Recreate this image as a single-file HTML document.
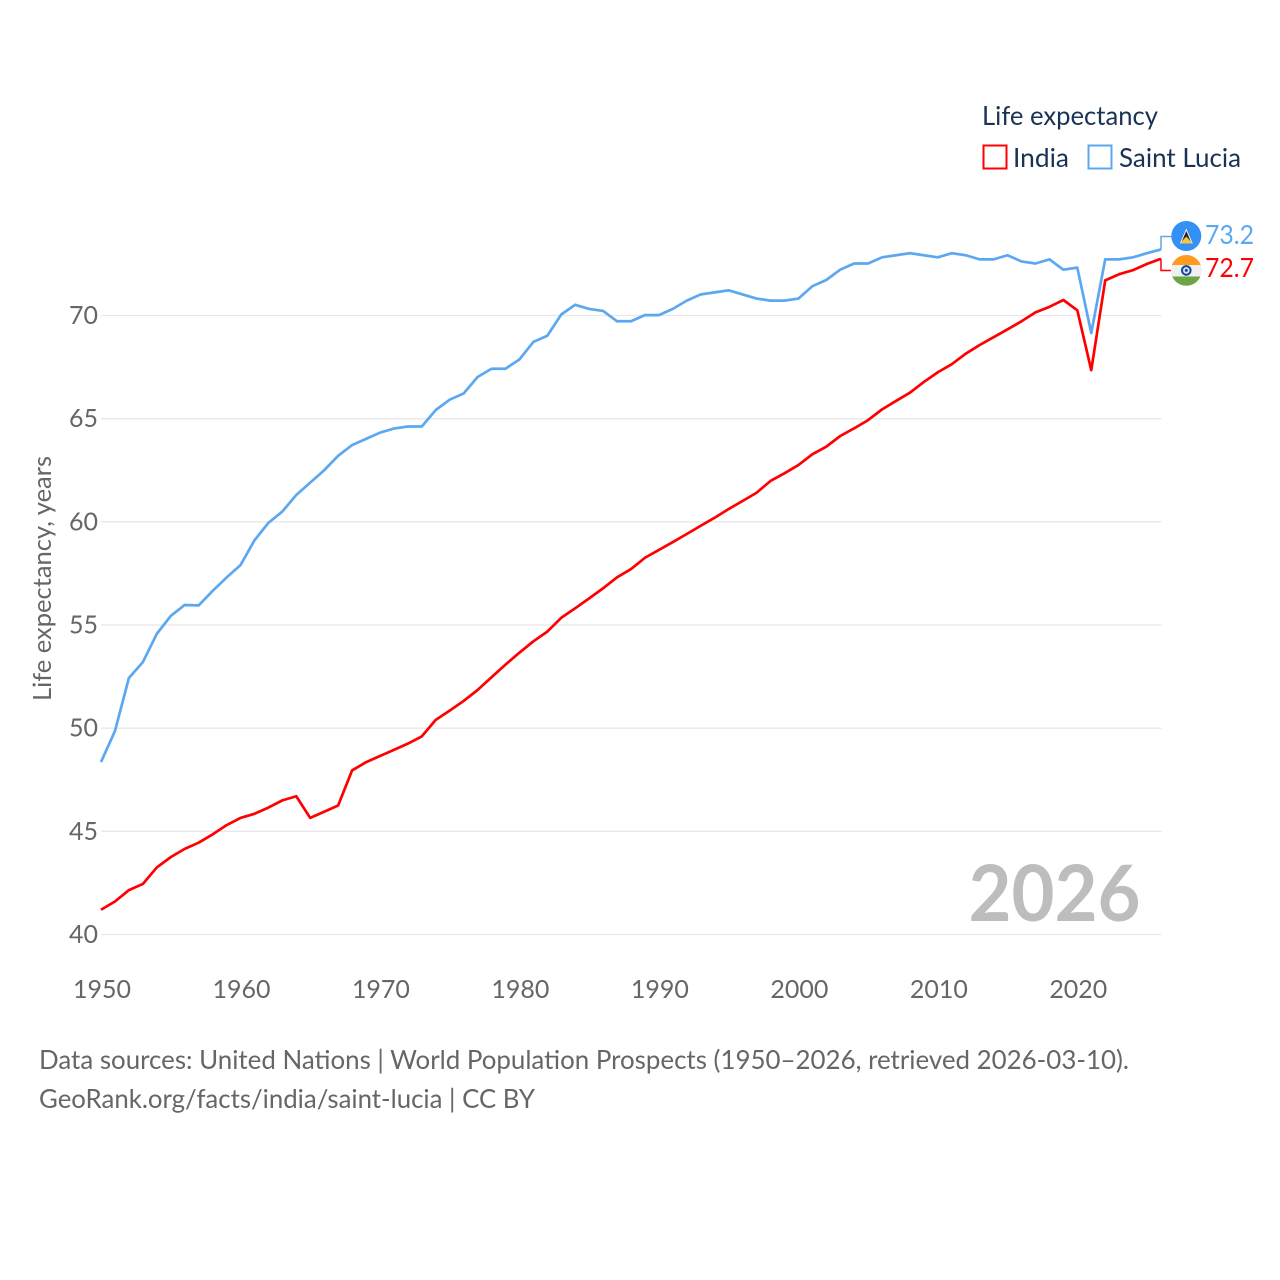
<!DOCTYPE html>
<html>
<head>
<meta charset="utf-8">
<title>Life expectancy: India vs Saint Lucia</title>
<style>
html,body{margin:0;padding:0;background:#fff;}
svg{display:block;}
text{font-family:"Lato","Carlito","Liberation Sans",sans-serif;}
</style>
</head>
<body>
<svg id="chart" xmlns="http://www.w3.org/2000/svg" width="1280" height="1280" viewBox="0 0 1280 1280">
  <rect x="0" y="0" width="1280" height="1280" fill="#fff"/>
  <g id="grid"></g>
  <g id="yticks"></g>
  <g id="xticks"></g>
  <text x="1140.5" y="921" text-anchor="end" font-size="78" font-weight="700" fill="#bdbdbd" textLength="172" lengthAdjust="spacingAndGlyphs">2026</text>
  <text transform="translate(51,701) rotate(-90)" font-size="25.5" fill="#666" textLength="245" lengthAdjust="spacingAndGlyphs">Life expectancy, years</text>
  <g id="series"></g>

  <g>
    <text x="982" y="125" font-size="26.5" fill="#1a3355" textLength="176" lengthAdjust="spacingAndGlyphs">Life expectancy</text>
    <rect x="983.5" y="145.5" width="23" height="23" fill="none" stroke="#ff0000" stroke-width="2"/>
    <text x="1013" y="167" font-size="26.5" fill="#1a3355" textLength="56" lengthAdjust="spacingAndGlyphs">India</text>
    <rect x="1088.5" y="145.5" width="23" height="23" fill="none" stroke="#5ca8f0" stroke-width="2"/>
    <text x="1119" y="167" font-size="26.5" fill="#1a3355" textLength="122" lengthAdjust="spacingAndGlyphs">Saint Lucia</text>
  </g>

  <defs>
    <clipPath id="lc-clip"><circle cx="1186.3" cy="236" r="15"/></clipPath>
    <clipPath id="in-clip"><circle cx="1186.3" cy="270.4" r="15.4"/></clipPath>
  </defs>
  <g clip-path="url(#lc-clip)">
    <rect x="1170" y="220" width="34" height="34" fill="#3390f5"/>
    <polygon points="1186.3,228.5 1192.8,243.5 1179.8,243.5" fill="#f2f2f2"/>
    <polygon points="1186.3,231 1190.8,241.5 1181.8,241.5" fill="#222"/>
    <polygon points="1186.3,236.5 1192.8,243.5 1179.8,243.5" fill="#f5c542"/>
  </g>
  <g clip-path="url(#in-clip)">
    <rect x="1170" y="254" width="34" height="11.2" fill="#ff9a1f"/>
    <rect x="1170" y="265" width="34" height="11.8" fill="#f0f0f0"/>
    <rect x="1170" y="276.5" width="34" height="11" fill="#6da544"/>
    <circle cx="1186.3" cy="270.4" r="5.3" fill="#0a4aa0"/>
    <circle cx="1186.3" cy="270.4" r="3.3" fill="#dfe6f0"/>
    <circle cx="1186.3" cy="270.4" r="1.5" fill="#0a4aa0"/>
  </g>
  <text x="1205" y="244" font-size="26" fill="#5ca8f0" textLength="49" lengthAdjust="spacingAndGlyphs">73.2</text>
  <text x="1205" y="277" font-size="26" fill="#ff0000" textLength="49" lengthAdjust="spacingAndGlyphs">72.7</text>

  <g>
    <text x="39" y="1069" font-size="26" fill="#666" textLength="1090" lengthAdjust="spacingAndGlyphs">Data sources: United Nations | World Population Prospects (1950–2026, retrieved 2026-03-10).</text>
    <text x="39" y="1108" font-size="26" fill="#666" textLength="496" lengthAdjust="spacingAndGlyphs">GeoRank.org/facts/india/saint-lucia | CC BY</text>
  </g>
</svg>
<script>
const startYear = 1950;
const yTickValues = [40, 45, 50, 55, 60, 65, 70];
const xTickValues = [1950, 1960, 1970, 1980, 1990, 2000, 2010, 2020];
const indiaValues = [41.2,41.6,42.15,42.45,43.25,43.75,44.15,44.45,44.85,45.3,45.65,45.85,46.15,46.5,46.7,45.65,45.95,46.25,47.95,48.35,48.65,48.95,49.25,49.6,50.4,50.85,51.32,51.85,52.47,53.08,53.66,54.21,54.68,55.35,55.81,56.29,56.78,57.31,57.71,58.26,58.64,59.02,59.41,59.81,60.2,60.62,61.01,61.41,61.98,62.35,62.75,63.27,63.64,64.16,64.53,64.93,65.45,65.86,66.26,66.78,67.25,67.64,68.15,68.57,68.95,69.33,69.72,70.15,70.42,70.75,70.25,67.35,71.7,72,72.2,72.5,72.75];
const saintLuciaValues = [48.36,49.86,52.43,53.2,54.57,55.44,55.97,55.95,56.65,57.3,57.9,59.1,59.95,60.5,61.3,61.9,62.5,63.2,63.72,64.02,64.32,64.52,64.62,64.62,65.42,65.92,66.22,67.02,67.42,67.42,67.87,68.72,69.02,70.05,70.52,70.32,70.22,69.72,69.72,70.02,70.02,70.32,70.72,71.02,71.12,71.22,71.02,70.82,70.72,70.72,70.82,71.42,71.72,72.22,72.52,72.52,72.82,72.92,73.02,72.92,72.82,73.02,72.92,72.72,72.72,72.92,72.62,72.52,72.72,72.22,72.32,69.15,72.72,72.72,72.82,73.02,73.2];

const NS = 'http://www.w3.org/2000/svg';
function xScale(year) { return 101 + (year - 1950) * (1161 - 101) / 76; }
function yScale(v) { return 934.5 - (v - 40) * (934.5 - 315.5) / 30; }

const gridG = document.getElementById('grid');
const yG = document.getElementById('yticks');
const xG = document.getElementById('xticks');
const seriesG = document.getElementById('series');

yTickValues.forEach(function (v) {
  const line = document.createElementNS(NS, 'line');
  
  
  line.setAttribute('x1', 101);
  line.setAttribute('x2', 1161.5);
  line.setAttribute('y1', yScale(v));
  line.setAttribute('y2', yScale(v));
  line.setAttribute('stroke', '#e8e8e8');
  line.setAttribute('stroke-width', '1.3');
  gridG.appendChild(line);
  const t = document.createElementNS(NS, 'text');
  
  
  t.setAttribute('x', 98);
  t.setAttribute('y', yScale(v) + 8.5);
  t.setAttribute('text-anchor', 'end');
  t.setAttribute('font-size', '25.5');
  t.setAttribute('fill', '#666');
  t.setAttribute('textLength', '29');
  t.setAttribute('lengthAdjust', 'spacingAndGlyphs');
  t.textContent = v;
  yG.appendChild(t);
});

xTickValues.forEach(function (y) {
  const t = document.createElementNS(NS, 'text');
  
  
  t.setAttribute('x', xScale(y) + 1);
  t.setAttribute('y', 998);
  t.setAttribute('text-anchor', 'middle');
  t.setAttribute('font-size', '25.5');
  t.setAttribute('fill', '#666');
  t.setAttribute('textLength', '58');
  t.setAttribute('lengthAdjust', 'spacingAndGlyphs');
  t.textContent = y;
  xG.appendChild(t);
});

function pointsFor(values) {
  return values.map(function (v, i) {
    return xScale(startYear + i).toFixed(2) + ',' + yScale(v).toFixed(2);
  }).join(' ');
}

const lineIndia = document.createElementNS(NS, 'polyline');


lineIndia.setAttribute('points', pointsFor(indiaValues));
lineIndia.setAttribute('fill', 'none');
lineIndia.setAttribute('stroke', '#ff0000');
lineIndia.setAttribute('stroke-width', '2.7');
lineIndia.setAttribute('stroke-linejoin', 'round');
seriesG.appendChild(lineIndia);

const lineLucia = document.createElementNS(NS, 'polyline');


lineLucia.setAttribute('points', pointsFor(saintLuciaValues));
lineLucia.setAttribute('fill', 'none');
lineLucia.setAttribute('stroke', '#5ca8f0');
lineLucia.setAttribute('stroke-width', '2.7');
lineLucia.setAttribute('stroke-linejoin', 'round');
seriesG.appendChild(lineLucia);

const lastIndia = yScale(indiaValues[indiaValues.length - 1]);
const lastLucia = yScale(saintLuciaValues[saintLuciaValues.length - 1]);

const leaderIndia = document.createElementNS(NS, 'polyline');


leaderIndia.setAttribute('points', '1161,' + lastIndia + ' 1161,270.5 1172,270.5');
leaderIndia.setAttribute('fill', 'none');
leaderIndia.setAttribute('stroke', '#ff0000');
leaderIndia.setAttribute('stroke-width', '1.5');
seriesG.appendChild(leaderIndia);

const leaderLucia = document.createElementNS(NS, 'polyline');


leaderLucia.setAttribute('points', '1161,' + lastLucia + ' 1161,236.5 1172,236.5');
leaderLucia.setAttribute('fill', 'none');
leaderLucia.setAttribute('stroke', '#5ca8f0');
leaderLucia.setAttribute('stroke-width', '1.5');
seriesG.appendChild(leaderLucia);
</script>
</body>
</html>
